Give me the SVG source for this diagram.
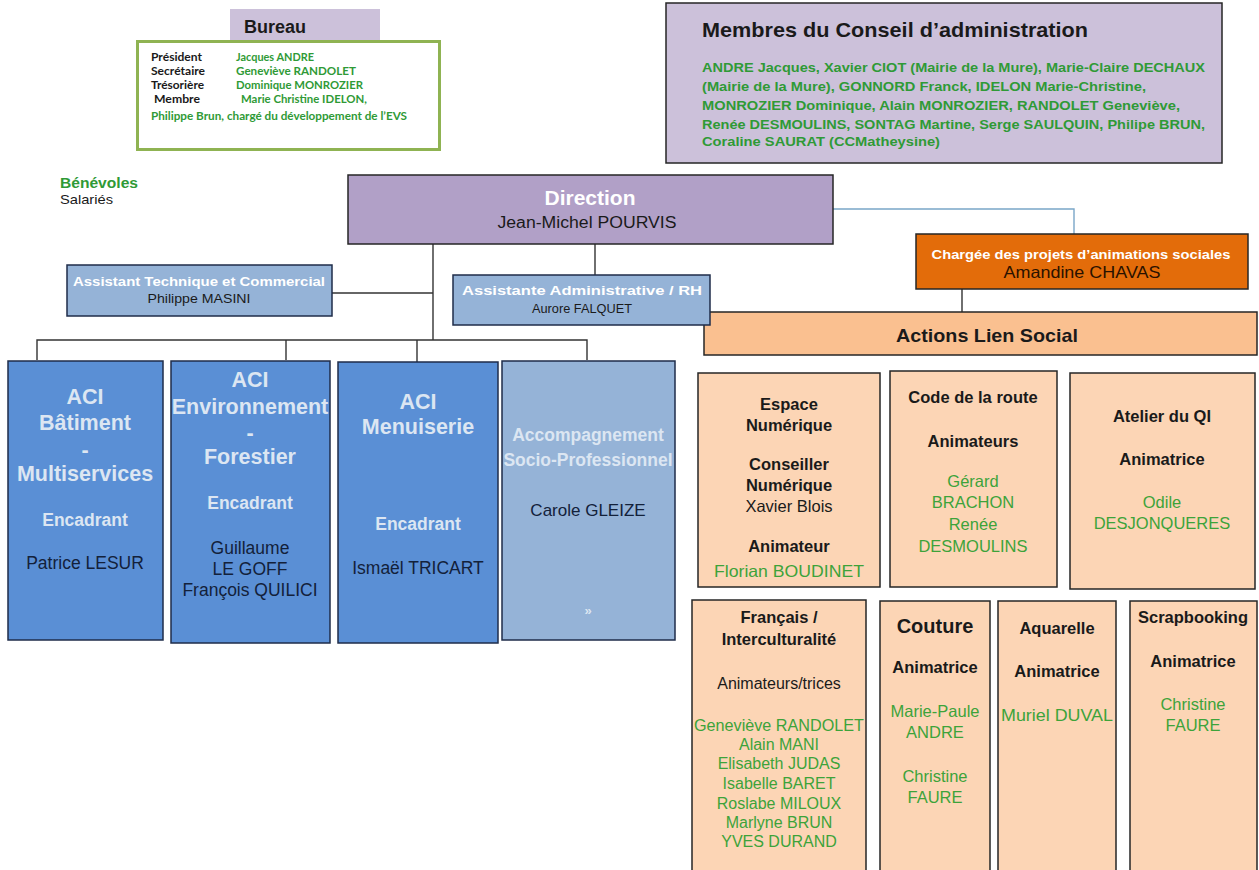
<svg xmlns="http://www.w3.org/2000/svg" width="1259" height="870" viewBox="0 0 1259 870">
<style>
text{font-family:"Liberation Sans",Arial,sans-serif}
.b{font-weight:bold}
.c{text-anchor:middle}
.cal{font-family:Lato,"Liberation Sans",sans-serif;font-weight:bold;font-size:11.3px}
.k{fill:#1a1a1a}
.g{fill:#2f9a36}
.g2{fill:#3da33a}
.w{fill:#ffffff}
.lt{fill:#dce6f2}
.nv{fill:#13213a}
.box{stroke:#262626;stroke-width:1.5}
.aci{fill:#5a8fd5;stroke:#1f2d4a;stroke-width:1.5}
.asp{fill:#95b3d7;stroke:#1f2d4a;stroke-width:1.5}
.peach{fill:#fcd5b5;stroke:#262626;stroke-width:1.5}
.ln{stroke:#333333;stroke-width:1.4;fill:none}
</style>

<g id="bureau">
<rect x="230" y="9" width="150" height="32" fill="#ccc1da"/>
<text x="244" y="33" class="b k" font-size="18">Bureau</text>
<rect x="137.5" y="41.5" width="302" height="108" fill="#ffffff" stroke="#8fb352" stroke-width="3"/>
<text class="cal k" x="151" y="61" textLength="51" lengthAdjust="spacingAndGlyphs">Président</text>
<text class="cal g" x="236" y="61" textLength="78" lengthAdjust="spacingAndGlyphs">Jacques ANDRE</text>
<text class="cal k" x="151" y="75" textLength="54" lengthAdjust="spacingAndGlyphs">Secrétaire</text>
<text class="cal g" x="236" y="75" textLength="120" lengthAdjust="spacingAndGlyphs">Geneviève RANDOLET</text>
<text class="cal k" x="151" y="89" textLength="53" lengthAdjust="spacingAndGlyphs">Trésorière</text>
<text class="cal g" x="236" y="89" textLength="127" lengthAdjust="spacingAndGlyphs">Dominique  MONROZIER</text>
<text class="cal k" x="154" y="103" textLength="46" lengthAdjust="spacingAndGlyphs">Membre</text>
<text class="cal g" x="241" y="103" textLength="126" lengthAdjust="spacingAndGlyphs">Marie  Christine  IDELON,</text>
<text class="cal g" x="151" y="120" textLength="256" lengthAdjust="spacingAndGlyphs">Philippe  Brun,  chargé  du  développement  de  l’EVS</text>
</g>

<g id="conseil">
<rect x="666" y="3" width="556" height="160" fill="#ccc1da" stroke="#262626" stroke-width="1.5"/>
<text x="702" y="37" class="b k" font-size="21" textLength="386" lengthAdjust="spacingAndGlyphs">Membres du Conseil d’administration</text>
<text x="702" y="72" class="b g" font-size="13.5" textLength="503" lengthAdjust="spacingAndGlyphs">ANDRE  Jacques, Xavier CIOT (Mairie de la Mure), Marie-Claire DECHAUX</text>
<text x="702" y="91" class="b g" font-size="13.5" textLength="444" lengthAdjust="spacingAndGlyphs">(Mairie de la Mure), GONNORD  Franck, IDELON  Marie-Christine,</text>
<text x="702" y="110" class="b g" font-size="13.5" textLength="478" lengthAdjust="spacingAndGlyphs">MONROZIER  Dominique, Alain MONROZIER,  RANDOLET  Geneviève,</text>
<text x="702" y="129" class="b g" font-size="13.5" textLength="503" lengthAdjust="spacingAndGlyphs">Renée DESMOULINS,  SONTAG  Martine, Serge SAULQUIN, Philipe BRUN,</text>
<text x="702" y="146" class="b g" font-size="13.5" textLength="238" lengthAdjust="spacingAndGlyphs">Coraline SAURAT (CCMatheysine)</text>
</g>

<g id="legende">
<text x="60" y="188" class="b g" font-size="14" textLength="78" lengthAdjust="spacingAndGlyphs">Bénévoles</text>
<text x="60" y="204" class="k" font-size="13.5" textLength="53" lengthAdjust="spacingAndGlyphs">Salariés</text>
</g>

<g id="connecteurs">
<polyline class="ln" points="833,209 1074,209 1074,234" style="stroke:#7aa6c8"/>
<line class="ln" x1="962" y1="289" x2="962" y2="312"/>
<line class="ln" x1="433" y1="244" x2="433" y2="340"/>
<line class="ln" x1="332" y1="293" x2="433" y2="293"/>
<line class="ln" x1="595" y1="244" x2="595" y2="275"/>
<polyline class="ln" points="37,360 37,340 587,340 587,360"/>
<line class="ln" x1="286" y1="340" x2="286" y2="360"/>
<line class="ln" x1="417" y1="340" x2="417" y2="362"/>
</g>

<g id="direction">
<rect x="348" y="175" width="485" height="69" fill="#b1a0c7" class="box"/>
<text x="590" y="205" class="b w c" font-size="21">Direction</text>
<text x="587" y="228" class="k c" font-size="16" textLength="179" lengthAdjust="spacingAndGlyphs">Jean-Michel  POURVIS</text>
</g>

<g id="chargee">
<rect x="916" y="234" width="332" height="55" fill="#e36c0a" class="box"/>
<text x="1081" y="259" class="b w c" font-size="13.5" textLength="299" lengthAdjust="spacingAndGlyphs">Chargée des projets d’animations sociales</text>
<text x="1082" y="278" class="c" fill="#2a1200" font-size="16.5" textLength="157" lengthAdjust="spacingAndGlyphs">Amandine  CHAVAS</text>
</g>

<g id="actions">
<rect x="704" y="312" width="553" height="43" fill="#fac090" class="box"/>
<text x="896" y="342" class="b k" font-size="19" textLength="182" lengthAdjust="spacingAndGlyphs">Actions  Lien  Social</text>
</g>

<g id="assistant-tech">
<rect x="67" y="265" width="265" height="51" class="asp"/>
<text x="199" y="286" class="b w c" font-size="13.5" textLength="252" lengthAdjust="spacingAndGlyphs">Assistant Technique et Commercial</text>
<text x="199" y="303" class="k c" font-size="13.5" textLength="103" lengthAdjust="spacingAndGlyphs">Philippe  MASINI</text>
</g>

<g id="assistante-admin">
<rect x="453" y="275" width="257" height="50" class="asp"/>
<text x="582" y="295" class="b w c" font-size="13" textLength="240" lengthAdjust="spacingAndGlyphs">Assistante Administrative / RH</text>
<text x="582" y="313" class="k c" font-size="13.5" textLength="100" lengthAdjust="spacingAndGlyphs">Aurore FALQUET</text>
</g>

<g id="aci-batiment">
<rect x="8" y="361" width="155" height="279" class="aci"/>
<text x="85" y="404" class="b lt c" font-size="21.5">ACI</text>
<text x="85" y="430" class="b lt c" font-size="21.5">Bâtiment</text>
<text x="85" y="457" class="b lt c" font-size="21.5">-</text>
<text x="85" y="481" class="b lt c" font-size="21.5">Multiservices</text>
<text x="85" y="526" class="b lt c" font-size="17.5">Encadrant</text>
<text x="85" y="569" class="nv c" font-size="17.5">Patrice LESUR</text>
</g>

<g id="aci-environnement">
<rect x="171" y="361" width="159" height="282" class="aci"/>
<text x="250" y="387" class="b lt c" font-size="21.5">ACI</text>
<text x="250" y="414" class="b lt c" font-size="21.5">Environnement</text>
<text x="250" y="440" class="b lt c" font-size="21.5">-</text>
<text x="250" y="464" class="b lt c" font-size="21.5">Forestier</text>
<text x="250" y="509" class="b lt c" font-size="17.5">Encadrant</text>
<text x="250" y="554" class="nv c" font-size="17.5">Guillaume</text>
<text x="250" y="575" class="nv c" font-size="17.5">LE GOFF</text>
<text x="250" y="596" class="nv c" font-size="17.5">François  QUILICI</text>
</g>

<g id="aci-menuiserie">
<rect x="338" y="362" width="160" height="281" class="aci"/>
<text x="418" y="409" class="b lt c" font-size="21.5">ACI</text>
<text x="418" y="434" class="b lt c" font-size="21.5">Menuiserie</text>
<text x="418" y="530" class="b lt c" font-size="17.5">Encadrant</text>
<text x="418" y="574" class="nv c" font-size="17.5">Ismaël  TRICART</text>
</g>

<g id="accompagnement">
<rect x="502" y="361" width="173" height="279" class="asp"/>
<text x="588" y="441" class="b lt c" font-size="17.5">Accompagnement</text>
<text x="588" y="466" class="b lt c" font-size="17.5">Socio-Professionnel</text>
<text x="588" y="516" class="nv c" font-size="17">Carole  GLEIZE</text>
<text x="588" y="615" class="b lt c" font-size="13">»</text>
</g>

<g id="espace-numerique">
<rect x="698" y="373" width="182" height="214" class="peach"/>
<text x="789" y="410" class="b k c" font-size="16.5">Espace</text>
<text x="789" y="431" class="b k c" font-size="16.5">Numérique</text>
<text x="789" y="470" class="b k c" font-size="16.5">Conseiller</text>
<text x="789" y="491" class="b k c" font-size="16.5">Numérique</text>
<text x="789" y="512" class="k c" font-size="16.5">Xavier  Blois</text>
<text x="789" y="552" class="b k c" font-size="16.5">Animateur</text>
<text x="789" y="577" class="g2 c" font-size="16.5" textLength="150" lengthAdjust="spacingAndGlyphs">Florian  BOUDINET</text>
</g>

<g id="code-route">
<rect x="890" y="371" width="167" height="216" class="peach"/>
<text x="973" y="403" class="b k c" font-size="16.5">Code de la route</text>
<text x="973" y="447" class="b k c" font-size="16.5">Animateurs</text>
<text x="973" y="487" class="g2 c" font-size="16.5">Gérard</text>
<text x="973" y="508" class="g2 c" font-size="16.5">BRACHON</text>
<text x="973" y="530" class="g2 c" font-size="16.5">Renée</text>
<text x="973" y="552" class="g2 c" font-size="16.5">DESMOULINS</text>
</g>

<g id="atelier-qi">
<rect x="1070" y="373" width="185" height="216" class="peach"/>
<text x="1162" y="422" class="b k c" font-size="16.5">Atelier du QI</text>
<text x="1162" y="465" class="b k c" font-size="16.5">Animatrice</text>
<text x="1162" y="508" class="g2 c" font-size="16.5">Odile</text>
<text x="1162" y="529" class="g2 c" font-size="16.5">DESJONQUERES</text>
</g>

<g id="francais">
<rect x="692" y="600" width="174" height="276" class="peach"/>
<text x="779" y="623" class="b k c" font-size="16.5">Français /</text>
<text x="779" y="645" class="b k c" font-size="16.5">Interculturalité</text>
<text x="779" y="689" class="k c" font-size="16">Animateurs/trices</text>
<text x="779" y="731" class="g2 c" font-size="16" textLength="170" lengthAdjust="spacingAndGlyphs">Geneviève RANDOLET</text>
<text x="779" y="750" class="g2 c" font-size="16">Alain MANI</text>
<text x="779" y="769" class="g2 c" font-size="16">Elisabeth JUDAS</text>
<text x="779" y="789" class="g2 c" font-size="16">Isabelle BARET</text>
<text x="779" y="809" class="g2 c" font-size="16">Roslabe MILOUX</text>
<text x="779" y="828" class="g2 c" font-size="16">Marlyne  BRUN</text>
<text x="779" y="847" class="g2 c" font-size="16">YVES  DURAND</text>
</g>

<g id="couture">
<rect x="880" y="601" width="110" height="275" class="peach"/>
<text x="935" y="633" class="b k c" font-size="20">Couture</text>
<text x="935" y="673" class="b k c" font-size="16.5">Animatrice</text>
<text x="935" y="717" class="g2 c" font-size="16.5">Marie-Paule</text>
<text x="935" y="738" class="g2 c" font-size="16.5">ANDRE</text>
<text x="935" y="782" class="g2 c" font-size="16.5">Christine</text>
<text x="935" y="803" class="g2 c" font-size="16.5">FAURE</text>
</g>

<g id="aquarelle">
<rect x="998" y="601" width="118" height="275" class="peach"/>
<text x="1057" y="634" class="b k c" font-size="16.5">Aquarelle</text>
<text x="1057" y="677" class="b k c" font-size="16.5">Animatrice</text>
<text x="1057" y="721" class="g2 c" font-size="16.5" textLength="112" lengthAdjust="spacingAndGlyphs">Muriel  DUVAL</text>
</g>

<g id="scrapbooking">
<rect x="1130" y="601" width="127" height="275" class="peach"/>
<text x="1193" y="623" class="b k c" font-size="16.5">Scrapbooking</text>
<text x="1193" y="667" class="b k c" font-size="16.5">Animatrice</text>
<text x="1193" y="710" class="g2 c" font-size="16.5">Christine</text>
<text x="1193" y="731" class="g2 c" font-size="16.5">FAURE</text>
</g>
</svg>
